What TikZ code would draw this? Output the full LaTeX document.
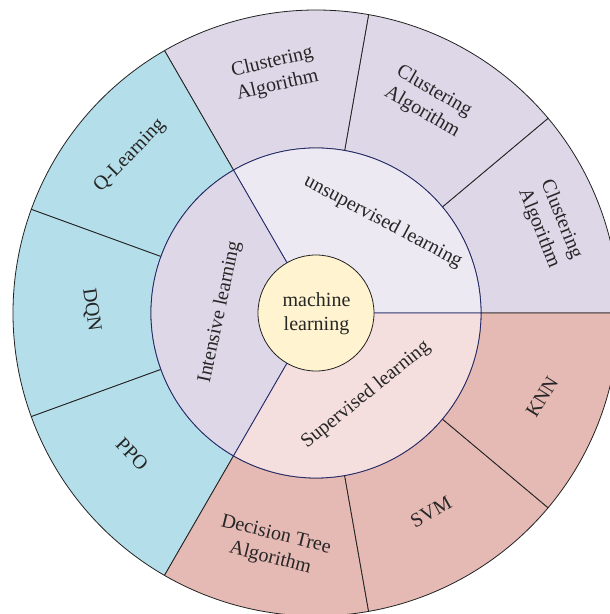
\documentclass[tikz,border=0pt]{standalone}
\usepackage{fontspec}
\setmainfont{Liberation Serif}
\definecolor{corefill}{HTML}{FFF4CF}
\definecolor{unsupmid}{HTML}{EDE9F2}
\definecolor{unsupout}{HTML}{DDD7E7}
\definecolor{intmid}{HTML}{DDD7E7}
\definecolor{intout}{HTML}{B4DEE9}
\definecolor{supmid}{HTML}{F4DEDE}
\definecolor{supout}{HTML}{E5B9B4}
\definecolor{navyline}{HTML}{22286A}
\definecolor{inkline}{HTML}{222222}
% ring sector: inner radius, outer radius, start angle, end angle, fill, line colour
\newcommand\ringsector[6]{%
  \filldraw[fill=#5,draw=#6,line width=0.8pt,line join=round]
    (#3:#1) arc[start angle=#3,end angle=#4,radius=#1]
    -- (#4:#2) arc[start angle=#4,end angle=#3,radius=#2] -- cycle;}
\tikzset{
  lbl/.style={font=\fontsize{20}{24}\selectfont,text=black!85,align=center,inner sep=0pt},
}
\begin{document}
\begin{tikzpicture}[x=1pt,y=1pt]
\useasboundingbox (-316,-301) rectangle (294,313);
\clip (-316,-301) rectangle (294,313);
% outer ring: algorithms
\ringsector{165pt}{303pt}{0}{40}{unsupout}{inkline}
\ringsector{165pt}{303pt}{40}{80}{unsupout}{inkline}
\ringsector{165pt}{303pt}{80}{120}{unsupout}{inkline}
\ringsector{165pt}{303pt}{120}{160}{intout}{inkline}
\ringsector{165pt}{303pt}{160}{200}{intout}{inkline}
\ringsector{165pt}{303pt}{200}{240}{intout}{inkline}
\ringsector{165pt}{303pt}{240}{280}{supout}{inkline}
\ringsector{165pt}{303pt}{280}{320}{supout}{inkline}
\ringsector{165pt}{303pt}{320}{360}{supout}{inkline}
% middle ring: learning paradigms
\ringsector{0pt}{165pt}{0}{120}{unsupmid}{navyline}
\ringsector{0pt}{165pt}{120}{240}{intmid}{navyline}
\ringsector{0pt}{165pt}{240}{360}{supmid}{navyline}
% centre disc
\filldraw[fill=corefill,draw=inkline,line width=0.8pt] (0,0) circle[radius=58pt];
\node[lbl] (core) at (0.5,-1) {machine\\learning};
% middle ring labels
\node[lbl,rotate=-28] (unsup) at (67,91) {unsupervised learning};
\node[lbl,rotate=78] (intens) at (-96,1) {Intensive learning};
\node[lbl,rotate=39] (superv) at (50,-82) {Supervised learning};
% outer ring labels
\node[lbl,rotate=-68] (clus1) at (234,89) {Clustering\\Algorithm};
\node[lbl,rotate=-30] (clus2) at (112,211) {Clustering\\Algorithm};
\node[lbl,rotate=13] (clus3) at (-41,239) {Clustering\\Algorithm};
\node[lbl,rotate=46] (qlearn) at (-186,157) {Q-Learning};
\node[lbl,rotate=-82] (dqn) at (-225,3) {DQN};
\node[lbl,rotate=-46] (ppo) at (-184,-141) {PPO};
\node[lbl,rotate=-14] (dtree) at (-43,-234) {Decision Tree\\Algorithm};
\node[lbl,rotate=29] (svm) at (115,-199) {SVM};
\node[lbl,rotate=58] (knn) at (226,-84) {KNN};
\end{tikzpicture}
\end{document}
